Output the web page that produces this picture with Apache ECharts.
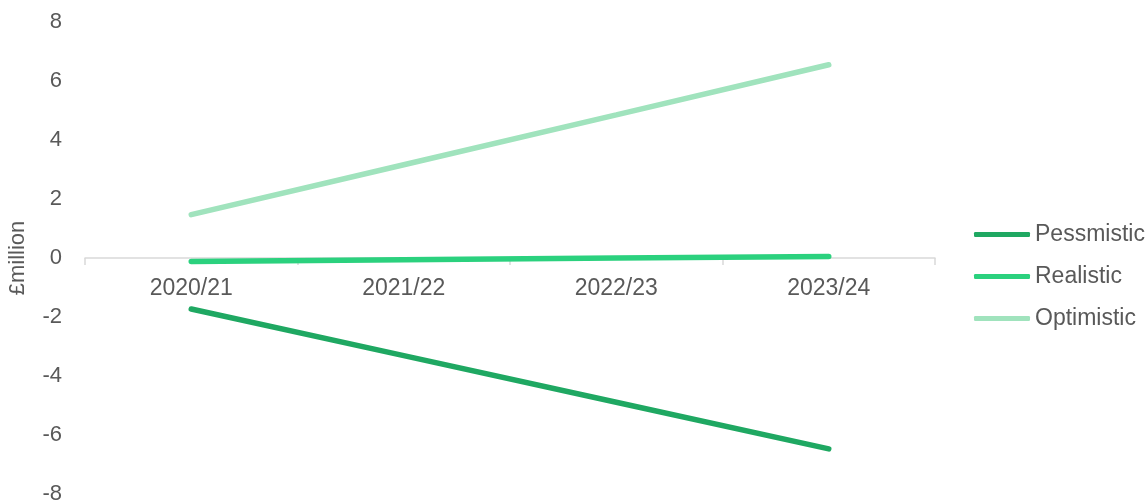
<!DOCTYPE html>
<html>
<head>
<meta charset="utf-8">
<script src="https://cdn.jsdelivr.net/npm/echarts@6/dist/echarts.min.js"></script>
<style>
html,body{margin:0;padding:0;background:#fff;}
#chart{width:1148px;height:502px;}
</style>
</head>
<body>
<div id="chart"></div>
<script>
const categories = ['2020/21', '2021/22', '2022/23', '2023/24'];
const pessimistic = [-1.73, -3.31, -4.89, -6.47];
const realistic = [-0.12, -0.06, 0.0, 0.05];
const optimistic = [1.47, 3.16, 4.85, 6.55];
const seriesNames = ['Pessmistic', 'Realistic', 'Optimistic'];
const yTicks = { min: -8, max: 8, interval: 2 };

const colors = ['#1fa862', '#2bd17e', '#a0e3bd'];
const font = '"Liberation Sans", Arial, sans-serif';
const textColor = '#595959';

const gridTop = 22, gridBottom = 8, H = 502;
const gridHeight = H - gridTop - gridBottom;
// place x axis at y = 0 (labels follow the axis line)
const zeroOffset = -gridHeight * (0 - yTicks.min) / (yTicks.max - yTicks.min);

const chart = echarts.init(document.getElementById('chart'), null, { renderer: 'canvas' });
const dataSets = [pessimistic, realistic, optimistic];

chart.setOption({
  animation: false,
  grid: { left: 85, right: 213, top: gridTop, bottom: gridBottom, containLabel: false, outerBoundsMode: 'none' },
  legend: {
    orient: 'vertical',
    left: 974,
    top: 223,
    padding: 0,
    itemWidth: 56,
    itemHeight: 5,
    itemGap: 19,
    itemTextGap: 3,
    icon: 'roundRect',
    textStyle: { fontSize: 23, color: textColor, fontFamily: font },
    data: seriesNames
  },
  xAxis: {
    type: 'category',
    data: categories,
    boundaryGap: true,
    position: 'bottom',
    offset: zeroOffset,
    axisLine: { show: true, onZero: false, lineStyle: { color: '#d9d9d9', width: 1.5 } },
    axisTick: { show: true, length: 7, lineStyle: { color: '#d9d9d9', width: 1.5 } },
    axisLabel: { fontSize: 23, color: textColor, fontFamily: font, margin: 19 },
    splitLine: { show: false }
  },
  yAxis: {
    type: 'value',
    min: yTicks.min,
    max: yTicks.max,
    interval: yTicks.interval,
    name: '£million',
    nameLocation: 'middle',
    nameRotate: 90,
    nameGap: 56,
    nameTextStyle: { fontSize: 22, color: textColor, fontFamily: font },
    axisLine: { show: false },
    axisTick: { show: false },
    splitLine: { show: false },
    axisLabel: { fontSize: 22, color: textColor, fontFamily: font, margin: 23 }
  },
  series: seriesNames.map((n, i) => ({
    name: n,
    type: 'line',
    data: dataSets[i],
    symbol: 'none',
    color: colors[i],
    lineStyle: { width: 5.5, color: colors[i], cap: 'round' }
  }))
});
</script>
</body>
</html>
